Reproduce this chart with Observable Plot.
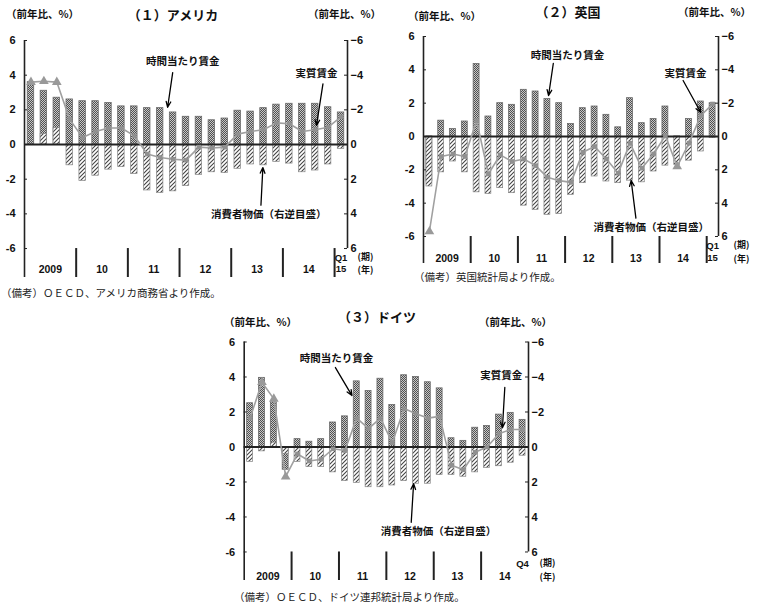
<!DOCTYPE html>
<html><head><meta charset="utf-8">
<script src="https://cdn.jsdelivr.net/npm/d3@7"></script>
<script src="https://cdn.jsdelivr.net/npm/@observablehq/plot@0.6"></script>
<style>
html,body{margin:0;padding:0;background:#fff;}
body{width:757px;height:609px;position:relative;overflow:hidden;font-family:"Noto Sans CJK JP",sans-serif;color:#111;}
.abs{position:absolute;white-space:nowrap;line-height:1;}
.title{font-size:13px;font-weight:700;transform:translateX(-50%);}
.unit{font-size:10.5px;font-weight:700;}
.note{font-size:10.5px;color:#222;}
.panel{position:absolute;}
.panel svg{overflow:visible;}
</style></head><body>
<svg width="0" height="0" style="position:absolute"><defs>
<pattern id="checker" width="2" height="2" patternUnits="userSpaceOnUse"><rect width="2" height="2" fill="#c8c8c8"/><rect width="1" height="1" fill="#505050"/><rect x="1" y="1" width="1" height="1" fill="#505050"/></pattern>
<pattern id="hatch" width="4" height="4" patternUnits="userSpaceOnUse"><rect width="4" height="4" fill="#fff"/><path d="M-1,1 l2,-2 M0,4 l4,-4 M3,5 l2,-2" stroke="#444" stroke-width="1.1"/></pattern>
</defs></svg>

<div class="abs title" style="left:173px;top:8px">（１）アメリカ</div>
<div class="abs unit" style="left:6px;top:9px">（前年比、%）</div>
<div class="abs unit" style="left:308px;top:9px">（前年比、%）</div>
<div class="abs note" style="left:1px;top:288px">（備考）ＯＥＣＤ、アメリカ商務省より作成。</div>

<div class="abs title" style="left:568px;top:5px">（２）英国</div>
<div class="abs unit" style="left:408px;top:11px">（前年比、%）</div>
<div class="abs unit" style="left:678px;top:7px">（前年比、%）</div>
<div class="abs note" style="left:414px;top:272px">（備考）英国統計局より作成。</div>

<div class="abs title" style="left:377px;top:310px">（３）ドイツ</div>
<div class="abs unit" style="left:224px;top:317px">（前年比、%）</div>
<div class="abs unit" style="left:479px;top:317px">（前年比、%）</div>
<div class="abs note" style="left:234px;top:592px">（備考）ＯＥＣＤ、ドイツ連邦統計局より作成。</div>

<div id="us" class="panel" style="left:0px;top:25px"></div>
<div id="uk" class="panel" style="left:390px;top:20px"></div>
<div id="de" class="panel" style="left:205px;top:325px"></div>

<script>
// ---- categories / tick labels ----
const yearLabels = ["2009", "10", "11", "12", "13", "14"];
const yTicks = [-6, -4, -2, 0, 2, 4, 6];
const tailUS = ["Q1", "15"];
const tailUK = ["Q1", "15"];
const tailDE = ["Q4"];
const periodLabels = ["(期)", "(年)"];

// ---- United States (2009Q1 - 2015Q1) ----
const usWage = [3.6, 3.1, 2.7, 2.6, 2.5, 2.5, 2.4, 2.2, 2.2, 2.1, 2.1, 1.85, 1.6, 1.6, 1.4, 1.5, 1.95, 1.9, 2.1, 2.3, 2.35, 2.35, 2.35, 2.15, 1.85];
const usCPI  = [0.0, -0.6, -0.95, 1.2, 2.1, 1.8, 1.45, 1.3, 1.7, 2.65, 2.8, 2.7, 2.4, 1.75, 1.6, 1.65, 1.4, 1.15, 1.2, 1.0, 1.1, 1.6, 1.5, 1.15, 0.25];
const usReal = [3.6, 3.65, 3.6, 1.45, 0.4, 0.75, 0.95, 0.95, 0.5, -0.55, -0.75, -0.85, -0.9, -0.15, -0.2, -0.15, 0.6, 0.75, 0.85, 1.25, 1.2, 0.75, 0.85, 1.0, 1.6];
const usMark = ["tri","tri","tri","sq","sq","sq","sq","sq","sq","sq","sq","sq","sq","sq","sq","sq","sq","sq","sq","sq","sq","sq","sq","sq","sq"];

// ---- United Kingdom (2009Q1 - 2015Q1) ----
const ukWage = [-2.7, 0.95, 0.45, 0.9, 4.35, 1.2, 2.0, 1.9, 2.8, 2.7, 2.25, 2.0, 0.75, 1.7, 1.8, 1.3, 0.55, 2.3, 0.8, 1.05, 1.8, -0.1, 1.05, 2.1, 2.0];
const ukCPI  = [3.0, 2.15, 1.5, 2.15, 3.35, 3.45, 3.1, 3.4, 4.15, 4.4, 4.7, 4.65, 3.5, 2.8, 2.4, 2.7, 2.8, 2.65, 2.75, 2.1, 1.75, 1.7, 1.45, 0.9, 0.1];
const ukReal = [-5.7, -1.2, -1.05, -1.2, 0.95, -2.25, -1.1, -1.5, -1.35, -1.75, -2.45, -2.65, -2.75, -0.95, -0.6, -1.35, -2.2, -0.4, -1.9, -1.05, 0.05, -1.8, -0.4, 1.25, 1.95];
const ukMark = ["tri","sq","sq","sq","sq","sq","sq","sq","sq","sq","sq","sq","sq","sq","sq","sq","sq","sq","sq","sq","sq","tri","sq","sq","sq"];

// ---- Germany (2009Q1 - 2014Q4) ----
const deWage = [2.5, 3.95, 2.55, -1.3, 0.45, 0.3, 0.45, 1.4, 1.75, 3.75, 3.2, 3.9, 2.4, 4.1, 4.0, 3.7, 3.35, 0.5, 0.35, 1.1, 1.2, 1.85, 1.95, 1.55];
const deCPI  = [0.85, 0.25, -0.25, 0.4, 0.85, 1.15, 1.15, 1.45, 1.95, 2.05, 2.3, 2.3, 2.2, 1.95, 2.1, 2.1, 1.6, 1.6, 1.7, 1.45, 1.2, 1.1, 0.9, 0.5];
const deReal = [1.65, 3.7, 2.75, -1.7, -0.4, -0.8, -0.7, -0.1, -0.2, 1.65, 1.05, 1.65, 0.25, 2.2, 1.9, 1.65, 1.75, -1.05, -1.3, -0.3, 0.0, 0.75, 1.0, 1.0];
const deMark = ["sq","tri","tri","tri","sq","sq","sq","sq","sq","sq","sq","sq","sq","sq","sq","sq","sq","sq","sq","sq","sq","sq","sq","sq"];

const annLabels = ["時間当たり賃金", "実質賃金", "消費者物価（右逆目盛）"];

function panel(c) {
  const n = c.wage.length;
  const rows = c.wage.map((w, i) => ({i, wage: w, cpi: c.cpi[i], real: c.real[i], mk: c.mark[i]}));
  const bw = c.barW;
  const tl = 3 / c.qw; // tick length in quarter units
  const seps = d3.range(4, n, 4);
  const years = yearLabels.map((t, k) => ({t, x: k * 4 + 2}));
  const ann = annLabels.map((t, k) => ({t, ...c.ann[k]}));
  const jp = "Noto Sans CJK JP";
  return Plot.plot({
    width: c.width, height: c.height,
    marginLeft: c.ml, marginRight: c.mr, marginTop: c.mt, marginBottom: c.mb,
    style: {background: "transparent", fontFamily: "Liberation Sans, Arial, sans-serif", fontSize: "11px", color: "#111", overflow: "visible"},
    x: {domain: [0, n], axis: null},
    y: {domain: [c.yMin, 6], axis: null},
    marks: [
      Plot.rectY(rows, {x1: d => d.i + 0.5 - bw / 2, x2: d => d.i + 0.5 + bw / 2, y1: 0, y2: "wage", fill: "url(#checker)", stroke: "#6a6a6a", strokeWidth: 0.8}),
      Plot.rectY(rows, {x1: d => d.i + 0.5 - bw / 2, x2: d => d.i + 0.5 + bw / 2, y1: 0, y2: d => -d.cpi, fill: "url(#hatch)", stroke: "#888", strokeWidth: 0.7}),
      Plot.ruleY([0], {x1: 0, x2: n, stroke: "#222", strokeWidth: 2}),
      Plot.line(rows, {x: d => d.i + 0.5, y: "real", stroke: "#a0a0a0", strokeWidth: 1.6}),
      Plot.dot(rows.filter(d => d.mk === "sq"), {x: d => d.i + 0.5, y: "real", symbol: "square", r: 2.6, fill: "#909090"}),
      Plot.dot(rows.filter(d => d.mk === "tri"), {x: d => d.i + 0.5, y: "real", symbol: "triangle", r: 3.6, fill: "#999"}),
      Plot.ruleX([0], {y1: c.yMin, y2: 6, stroke: "#222", strokeWidth: 1.6}),
      Plot.ruleX([n], {y1: -6, y2: 6, stroke: "#222", strokeWidth: 1.6}),
      Plot.ruleX(seps, {y1: c.yMin, y2: -6, stroke: "#222", strokeWidth: 2}),
      Plot.ruleY(yTicks, {x1: 0, x2: tl, stroke: "#222", strokeWidth: 1}),
      Plot.ruleY(yTicks, {x1: n - tl, x2: n, stroke: "#222", strokeWidth: 1}),
      Plot.axisY({anchor: "left", ticks: yTicks, tickSize: 0, tickPadding: 9, tickFormat: d => d < 0 ? "-" + Math.abs(d) : String(d), fontSize: 11, fontWeight: "bold", label: null}),
      Plot.axisY({anchor: "right", ticks: yTicks, tickSize: 0, tickPadding: 3, tickFormat: d => d > 0 ? "−" + d : String(Math.abs(d)), fontSize: 11, fontWeight: "bold", label: null}),
      Plot.text(years, {x: "x", y: c.yearY, text: "t", fontSize: 10.5, fontWeight: "bold"}),
      Plot.text(c.tail, {x: n - 0.5, y: (d, k) => k === 0 ? c.tailY : c.yearY, text: d => d, fontSize: 9.5, fontWeight: "bold"}),
      Plot.text(periodLabels, {x: n, y: (d, k) => k === 0 ? c.tailY + 0.06 : c.yearY - 0.06, dx: c.pdx, text: d => d, textAnchor: "start", fontFamily: jp, fontWeight: "bold", fontSize: 9}),
      Plot.text(ann, {x: "tx", y: "ty", text: "t", fontFamily: jp, fontWeight: "bold", fontSize: 10.5}),
      Plot.arrow(ann, {x1: "x1", y1: "y1", x2: "x2", y2: "y2", stroke: "#000", strokeWidth: 1.3, headLength: 7, headAngle: 45})
    ]
  });
}

document.getElementById("us").append(panel({
  wage: usWage, cpi: usCPI, real: usReal, mark: usMark, tail: tailUS,
  width: 380, height: 260, ml: 24, mr: 33, mt: 15, mb: 8, yMin: -7.67, qw: 12.92, barW: 0.5,
  yearY: -7.2, tailY: -6.55, pdx: 10,
  ann: [
    {tx: 12.25, ty: 4.79, x1: 11.47, y1: 4.15, x2: 11.08, y2: 2.15},
    {tx: 22.6, ty: 4.09, x1: 23.1, y1: 3.5, x2: 22.6, y2: 1.1},
    {tx: 18.9, ty: -4.04, x1: 18.3, y1: -3.5, x2: 18.45, y2: -1.33}
  ]
}));

document.getElementById("uk").append(panel({
  wage: ukWage, cpi: ukCPI, real: ukReal, mark: ukMark, tail: tailUK,
  width: 367, height: 250, ml: 33, mr: 39, mt: 16, mb: 7, yMin: -7.62, qw: 11.8, barW: 0.5,
  yearY: -7.3, tailY: -6.55, pdx: 15,
  ann: [
    {tx: 12.2, ty: 4.86, x1: 11.0, y1: 4.38, x2: 10.6, y2: 2.46},
    {tx: 22.2, ty: 3.78, x1: 22.0, y1: 3.36, x2: 23.5, y2: 1.44},
    {tx: 19.3, ty: -5.46, x1: 18.0, y1: -4.9, x2: 17.6, y2: -2.64}
  ]
}));

document.getElementById("de").append(panel({
  wage: deWage, cpi: deCPI, real: deReal, mark: deMark, tail: tailDE,
  width: 360, height: 260, ml: 38.7, mr: 37, mt: 16.5, mb: 5, yMin: -7.63, qw: 11.85, barW: 0.5,
  yearY: -7.4, tailY: -6.68, pdx: 11,
  ann: [
    {tx: 7.8, ty: 5.06, x1: 7.7, y1: 4.54, x2: 9.1, y2: 2.94},
    {tx: 21.7, ty: 4.09, x1: 22.0, y1: 3.4, x2: 21.8, y2: 1.1},
    {tx: 16.4, ty: -4.83, x1: 14.1, y1: -4.3, x2: 14.3, y2: -2.1}
  ]
}));
</script>
</body></html>
